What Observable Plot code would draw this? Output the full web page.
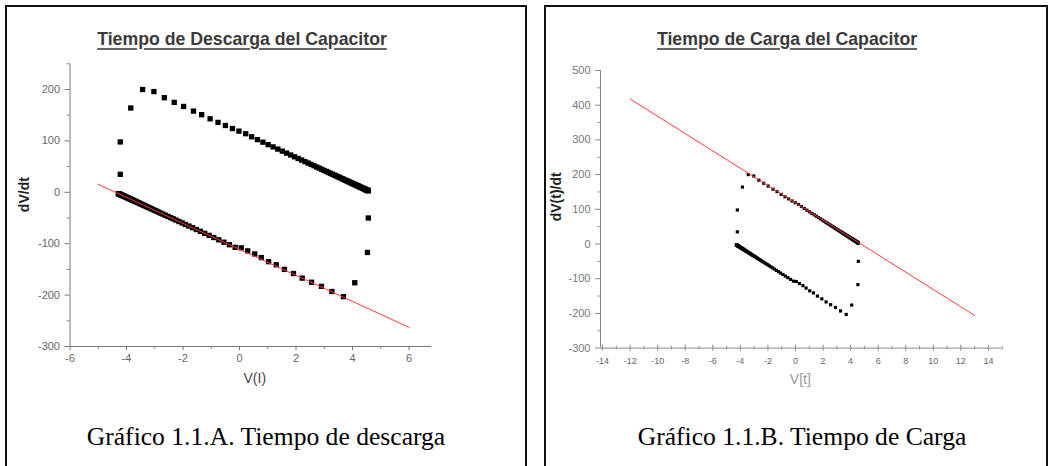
<!DOCTYPE html>
<html>
<head>
<meta charset="utf-8">
<script src="https://cdn.jsdelivr.net/npm/d3@7"></script>
<script src="https://cdn.jsdelivr.net/npm/@observablehq/plot@0.6"></script>
<style>
html, body { margin: 0; padding: 0; background: #fff; }
#page { position: relative; width: 1053px; height: 466px; overflow: hidden; background: #fff; }
.panel { position: absolute; border: 2px solid #111; box-sizing: border-box; }
.title { position: absolute; font-family: "Liberation Sans", Arial, sans-serif; font-weight: bold; font-size: 17.7px; color: #3a3a3a;
  text-decoration: underline; text-decoration-thickness: 2px; text-underline-offset: 3px; text-decoration-color: #666;
  white-space: nowrap; transform: translateX(-50%); line-height: 1; }
.caption { position: absolute; font-family: "Liberation Serif", "Times New Roman", serif; font-size: 25.6px; color: #000;
  white-space: nowrap; transform: translateX(-50%); line-height: 1; }
.chart { position: absolute; top: 0; }
.chart svg { overflow: visible; }
</style>
</head>
<body>
<div id="page">
  <div class="panel" style="left:5px; top:5px; width:522px; height:480px;"></div>
  <div class="panel" style="left:544px; top:5px; width:504px; height:480px;"></div>
  <div class="title" style="left:242px; top:30.7px;">Tiempo de Descarga del Capacitor</div>
  <div class="title" style="left:787px; top:30.5px;">Tiempo de Carga del Capacitor</div>
  <div id="chartA" class="chart" style="left:0px;"></div>
  <div id="chartB" class="chart" style="left:530px;"></div>
  <div class="caption" style="left:266px; top:424px;">Gráfico 1.1.A. Tiempo de descarga</div>
  <div class="caption" style="left:802px; top:424px;">Gráfico 1.1.B. Tiempo de Carga</div>
</div>
<script>
// ---- Data: V(t) and dV/dt ----
// charging branch (upper)
const chargeV = [-4.22, -4.22, -3.85, -3.43, -3.03, -2.66, -2.31, -1.98, -1.63, -1.34, -1.04, -0.76, -0.50, -0.25, -0.02, 0.22, 0.43,
  0.634, 0.829, 1.013, 1.189, 1.356, 1.515, 1.666, 1.81, 1.947, 2.077, 2.2, 2.318, 2.43, 2.536, 2.637, 2.733, 2.825, 2.912, 2.994,
  3.073, 3.148, 3.219, 3.287, 3.351, 3.412, 3.47, 3.526, 3.578, 3.628, 3.676, 3.721, 3.764, 3.805, 3.844, 3.881, 3.916, 3.95, 3.982,
  4.012, 4.041, 4.068, 4.094, 4.119, 4.143, 4.165, 4.186, 4.207, 4.226, 4.244, 4.262, 4.29, 4.32, 4.345, 4.37, 4.39, 4.41, 4.43,
  4.45, 4.465, 4.48, 4.49, 4.5, 4.51, 4.52, 4.53, 4.54, 4.55, 4.56];
const chargeDV = [35, 98, 164, 200, 196, 184, 175, 167, 158, 151, 143, 136, 130, 124, 119, 114, 108,
  102.5, 97.5, 92.8, 88.3, 84.1, 80.1, 76.2, 72.6, 69.1, 65.8, 62.7, 59.7, 56.9, 54.2, 51.7, 49.2, 46.9, 44.7, 42.6,
  40.6, 38.7, 36.9, 35.2, 33.6, 32.1, 30.6, 29.2, 27.9, 26.6, 25.4, 24.2, 23.2, 22.1, 21.1, 20.2, 19.3, 18.4, 17.6,
  16.9, 16.1, 15.5, 14.8, 14.2, 13.6, 13.0, 12.5, 11.9, 11.5, 11.0, 10.6, 9.8, 9.1, 8.5, 7.8, 7.3, 6.8, 6.3,
  5.8, 5.4, 5.0, 4.8, 4.5, 4.3, 4.0, 3.8, 3.5, 3.3, 3.0];
// discharging branch (lower)
const dischargeV = [4.56, 4.53, 4.08, 3.68, 3.27, 2.90, 2.55, 2.22, 1.91, 1.59, 1.30, 1.03, 0.77, 0.54, 0.29, 0.06,
  -0.154, -0.357, -0.55, -0.734, -0.909, -1.075, -1.233, -1.383, -1.526, -1.662, -1.791, -1.914, -2.031, -2.142, -2.248,
  -2.348, -2.444, -2.535, -2.621, -2.704, -2.782, -2.856, -2.927, -2.994, -3.058, -3.119, -3.177, -3.232, -3.284, -3.334,
  -3.381, -3.426, -3.469, -3.51, -3.548, -3.585, -3.62, -3.654, -3.685, -3.715, -3.744, -3.771, -3.797, -3.822, -3.845,
  -3.867, -3.889, -3.909, -3.928, -3.946, -3.98, -4.01, -4.04, -4.065, -4.09, -4.11, -4.13, -4.15, -4.165, -4.18, -4.195,
  -4.21, -4.22, -4.235, -4.25, -4.26, -4.27, -4.28, -4.29];
const dischargeDV = [-50, -117, -176, -203, -193, -183, -175, -167, -158, -150, -141, -135, -127, -120, -114, -108,
  -107.1, -102.0, -97.1, -92.4, -88.0, -83.8, -79.8, -76.0, -72.4, -68.9, -65.7, -62.6, -59.6, -56.8, -54.1,
  -51.6, -49.2, -46.9, -44.7, -42.6, -40.6, -38.7, -36.9, -35.3, -33.6, -32.1, -30.6, -29.2, -27.9, -26.6,
  -25.5, -24.3, -23.2, -22.2, -21.2, -20.3, -19.4, -18.6, -17.8, -17.0, -16.3, -15.6, -14.9, -14.3, -13.7,
  -13.2, -12.6, -12.1, -11.6, -11.2, -10.3, -9.5, -8.8, -8.2, -7.5, -7.0, -6.5, -6.0, -5.6, -5.2, -4.9,
  -4.5, -4.2, -3.9, -3.5, -3.2, -3.0, -2.7, -2.5];
// linear fits (red lines)
const fitA_V = [-5, 6];
const fitA_DV = [15.5, -262.8];
const fitB_V = [-12, 13];
const fitB_DV = [418, -206];
// axes
const axA_xDomain = [-6, 6.8];
const axA_yDomain = [-300, 250];
const axA_xTicks = [-6, -4, -2, 0, 2, 4, 6];
const axA_xMinor = [-5, -3, -1, 1, 3, 5];
const axA_yTicks = [-300, -200, -100, 0, 100, 200];
const axA_yMinor = [-250, -150, -50, 50, 150, 250];
const axB_xDomain = [-14.15, 15];
const axB_yDomain = [-300, 500];
const axB_xTicks = [-14, -12, -10, -8, -6, -4, -2, 0, 2, 4, 6, 8, 10, 12, 14];
const axB_xMinor = [-13, -11, -9, -7, -5, -3, -1, 1, 3, 5, 7, 9, 11, 13, 15];
const axB_yTicks = [-300, -200, -100, 0, 100, 200, 300, 400, 500];
const axB_yMinor = [-250, -150, -50, 50, 150, 250, 350, 450];
const labelsA = {x: "V(I)", y: "dV/dt"};
const labelsB = {x: "V[t]", y: "dV(t)/dt"};

const points = chargeV.map((v, i) => ({v, dv: chargeDV[i]}))
  .concat(dischargeV.map((v, i) => ({v, dv: dischargeDV[i]})));
const fitA = fitA_V.map((v, i) => ({v, dv: fitA_DV[i]}));
const fitB = fitB_V.map((v, i) => ({v, dv: fitB_DV[i]}));

const fmt = d => String(d);

const chartA = Plot.plot({
  width: 530, height: 420,
  marginLeft: 69.5, marginRight: 98.9, marginTop: 63.3, marginBottom: 74,
  x: {domain: axA_xDomain},
  y: {domain: axA_yDomain},
  style: {fontFamily: "'Liberation Sans', Arial, sans-serif", fontSize: "11px", background: "transparent"},
  marks: [
    Plot.ruleX([axA_xDomain[0]], {stroke: "#777"}),
    Plot.ruleY([axA_yDomain[0]], {stroke: "#777"}),
    Plot.axisY({ticks: axA_yTicks, tickSize: 5, tickPadding: 5, tickFormat: fmt, stroke: "#777", fill: "#666", label: null, fontSize: 11}),
    Plot.axisX({ticks: axA_xTicks, tickSize: 4, tickPadding: 4, tickFormat: fmt, stroke: "#777", fill: "#666", label: null, fontSize: 11}),
    Plot.ruleY(axA_yMinor, {y: d => d, x1: () => axA_xDomain[0], x2: () => axA_xDomain[0], insetLeft: -3, insetRight: 0, stroke: "#888"}),
    Plot.ruleX(axA_xMinor, {x: d => d, y1: () => axA_yDomain[0], y2: () => axA_yDomain[0], insetTop: 0, insetBottom: -3, stroke: "#888"}),
    Plot.dot(points, {x: "v", y: "dv", symbol: "square", r: 3, fill: "#000", stroke: "none"}),
    Plot.line(fitA, {x: "v", y: "dv", stroke: "#ff3a3a", strokeWidth: 1}),
    Plot.text([labelsA.x], {frameAnchor: "bottom", text: d => d, dx: 4, dy: 36, fontSize: 14, fill: "#444"}),
    Plot.text([labelsA.y], {frameAnchor: "left", text: d => d, rotate: -90, dx: -45, dy: 7, fontSize: 14, fontWeight: "bold", fill: "#222"})
  ]
});
document.getElementById("chartA").appendChild(chartA);

const chartB = Plot.plot({
  width: 523, height: 420,
  marginLeft: 70, marginRight: 51.3, marginTop: 70, marginBottom: 72.4,
  x: {domain: axB_xDomain},
  y: {domain: axB_yDomain},
  style: {fontFamily: "'Liberation Sans', Arial, sans-serif", fontSize: "11px", background: "transparent"},
  marks: [
    Plot.ruleX([axB_xDomain[0]], {stroke: "#888"}),
    Plot.ruleY([axB_yDomain[0]], {stroke: "#888"}),
    Plot.axisY({ticks: axB_yTicks, tickSize: 5, tickPadding: 5, tickFormat: fmt, stroke: "#888", fill: "#777", label: null, fontSize: 11}),
    Plot.axisX({ticks: axB_xTicks, tickSize: 0, tickPadding: 10, tickFormat: fmt, stroke: "#888", fill: "#666", label: null, fontSize: 9}),
    Plot.ruleY(axB_yMinor, {y: d => d, x1: () => axB_xDomain[0], x2: () => axB_xDomain[0], insetLeft: -3, insetRight: 0, stroke: "#999"}),
    Plot.ruleX(axB_xTicks, {x: d => d, y1: () => axB_yDomain[0], y2: () => axB_yDomain[0], insetTop: -3, insetBottom: -3, stroke: "#888"}),
    Plot.ruleX(axB_xMinor, {x: d => d, y1: () => axB_yDomain[0], y2: () => axB_yDomain[0], insetTop: -2, insetBottom: -2, stroke: "#999"}),
    Plot.dot(points, {x: "v", y: "dv", symbol: "square", r: 1.8, fill: "#000", stroke: "none"}),
    Plot.line(fitB, {x: "v", y: "dv", stroke: "#ff3a3a", strokeWidth: 1}),
    Plot.text([labelsB.x], {frameAnchor: "bottom", text: d => d, dx: -1, dy: 35.5, fontSize: 14, fill: "#999"}),
    Plot.text([labelsB.y], {frameAnchor: "left", text: d => d, rotate: -90, dx: -44, dy: 12, fontSize: 14, fontWeight: "bold", fill: "#222"})
  ]
});
document.getElementById("chartB").appendChild(chartB);
</script>
</body>
</html>
